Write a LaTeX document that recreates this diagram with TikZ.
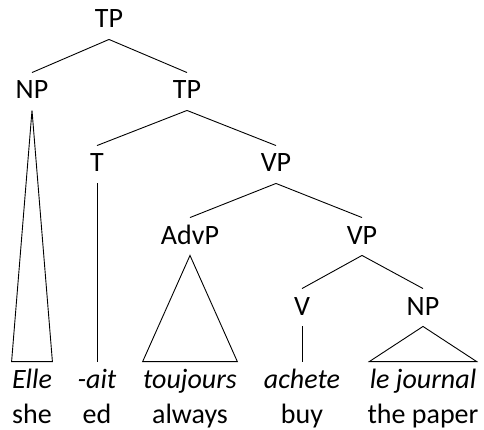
\documentclass[tikz,border=0pt]{standalone}
\usepackage{fontspec}
\setmainfont{Carlito}
\begin{document}
\begin{tikzpicture}[x=1pt,y=-1pt,line width=0.9pt,
   cat/.style={anchor=base,inner sep=0pt,text height=26pt,text depth=11pt,
     font=\fontsize{28}{32}\selectfont},
   word/.style={anchor=base,inner sep=0pt,text height=26pt,text depth=0pt,
     font=\fontsize{28}{32}\selectfont\itshape},
   gloss/.style={anchor=base,inner sep=0pt,font=\fontsize{28}{32}\selectfont}]
   \useasboundingbox (0,0) rectangle (484,430);
   % categories
   \node[cat] (tp)   at (109,28)  {TP};
   \node[cat] (np)   at (32,99)   {NP};
   \node[cat] (tpb)  at (187,99)  {TP};
   \node[cat] (t)    at (97,172)  {T};
   \node[cat] (vp)   at (276,172) {VP};
   \node[cat] (advp) at (190,244) {AdvP};
   \node[cat] (vpb)  at (362,244) {VP};
   \node[cat] (v)    at (302,315) {V};
   \node[cat] (npb)  at (423,315) {NP};
   % words and glosses
   \node[word] (elle)  at (32,388)  {Elle};
   \node[word] (ait)   at (97,388)  {-ait};
   \node[word] (touj)  at (190,388) {toujours};
   \node[word] (ach)   at (302,388) {achete};
   \node[word] (journ) at (423,388) {le journal};
   \node[gloss] (she)  at (32,423)  {she};
   \node[gloss] (ed)   at (97,423)  {ed};
   \node[gloss] (alw)  at (190,423) {always};
   \node[gloss] (buy)  at (302,423) {buy};
   \node[gloss] (pap)  at (423,423) {the paper};
   % branches
   \foreach \a/\b in {tp/np,tp/tpb,tpb/t,tpb/vp,vp/advp,vp/vpb,vpb/v,vpb/npb,t/ait,v/ach}
    \draw (\a.south) -- (\b.north);
   \foreach \a/\b in {np/elle,advp/touj,npb/journ}
    \draw (\a.south) -- (\b.north east) -- (\b.north west) -- cycle;
  \end{tikzpicture}
\end{document}
